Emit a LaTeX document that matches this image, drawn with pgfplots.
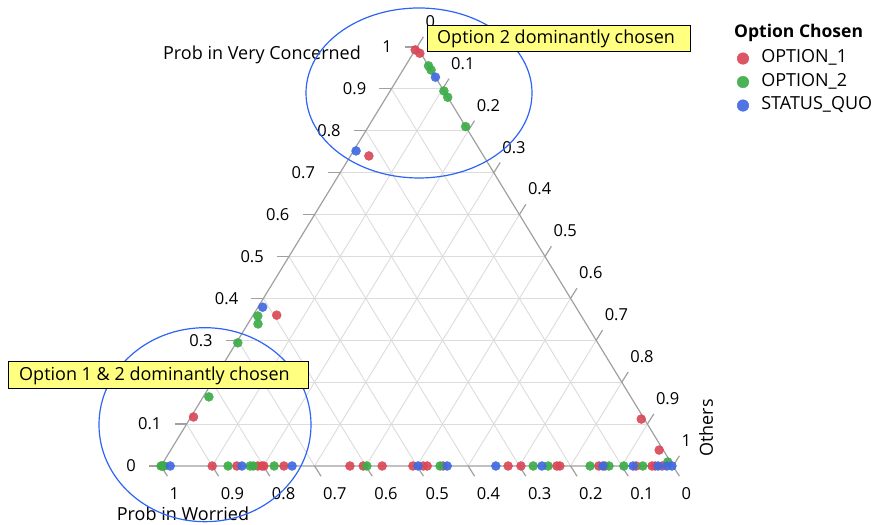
\documentclass[border=0pt]{standalone}
\usepackage{pgfplots}
\usepackage{pgfplotstable}
\pgfplotsset{compat=1.18}
\usepackage{fontspec}
\setmainfont{Open Sans}
\definecolor{cOne}{RGB}{217,72,87}
\definecolor{cTwo}{RGB}{60,173,72}
\definecolor{cSQ}{RGB}{65,105,225}
\definecolor{edgec}{RGB}{160,160,160}
\definecolor{gridc}{RGB}{220,220,220}
\definecolor{ann}{RGB}{255,255,128}
\definecolor{ellc}{RGB}{45,100,245}

% columns: a = Prob in Very Concerned, b = Prob in Worried, c = Others
\pgfplotstableread{
a b c
0 0.997 0.003
0 0.900 0.100
0 0.852 0.148
0 0.811 0.189
0 0.803 0.197
0 0.799 0.201
0 0.760 0.240
0 0.631 0.369
0 0.605 0.395
0 0.568 0.432
0 0.508 0.492
0 0.488 0.512
0 0.480 0.520
0 0.449 0.551
0 0.322 0.678
0 0.297 0.703
0 0.227 0.773
0 0.221 0.779
0 0.145 0.855
0 0.133 0.867
0 0.072 0.928
0 0.041 0.959
0 0.035 0.965
0 0.021 0.979
0.993 0.007 0.000
0.985 0.002 0.013
0.740 0.224 0.036
0.360 0.594 0.046
0.117 0.878 0.005
0.112 0.006 0.882
0.038 0.008 0.954
}\optone

\pgfplotstableread{
a b c
0 1.000 0.000
0 0.994 0.006
0 0.869 0.131
0 0.826 0.174
0 0.820 0.180
0 0.779 0.221
0 0.598 0.402
0 0.455 0.545
0 0.273 0.727
0 0.244 0.756
0 0.162 0.838
0 0.125 0.875
0 0.096 0.904
0 0.059 0.941
0.955 0 0.045
0.945 0 0.055
0.895 0 0.105
0.880 0 0.120
0.810 0 0.190
0.358 0.632 0.010
0.339 0.641 0.020
0.294 0.703 0.003
0.165 0.824 0.011
0.0095 0.0055 0.985
}\opttwo

\pgfplotstableread{
a b c
0 0.982 0.018
0 0.842 0.158
0 0.744 0.256
0 0.498 0.502
0 0.441 0.559
0 0.346 0.654
0 0.256 0.744
0 0.137 0.863
0 0.078 0.922
0 0.029 0.971
0 0.012 0.988
0 0.002 0.998
0.928 0 0.072
0.752 0.243 0.005
0.379 0.612 0.009
}\statusquo

\begin{document}
\fontsize{18bp}{21bp}\selectfont
\begin{tikzpicture}[x=1bp,y=1bp]
\useasboundingbox (-161,-59) rectangle (715,466);
% grid
\foreach \k in {1,...,9}{
  \draw[gridc, line width=0.9bp] ({\k/20*512},{\k/10*419}) -- ({(1-\k/20)*512},{\k/10*419});
  \draw[gridc, line width=0.9bp] ({\k/10*512},0) -- ({(\k/10+(1-\k/10)/2)*512},{(1-\k/10)*419});
  \draw[gridc, line width=0.9bp] ({(1-\k/10)*512},0) -- ({(1-\k/10)/2*512},{(1-\k/10)*419});
}
% edges
\draw[edgec, line width=1.2bp] (0,0) -- (256,419) -- (512,0) -- cycle;
% ticks and tick labels
\begin{scope}[every node/.style={inner sep=0pt, font=\fontsize{16.5bp}{19bp}\selectfont}]
\foreach \v/\t in {0/0,0.1/0.1,0.2/0.2,0.3/0.3,0.4/0.4,0.5/0.5,0.6/0.6,0.7/0.7,0.8/0.8,0.9/0.9,1/1}{
  % left axis: Prob in Very Concerned
  \draw[edgec, line width=1.2bp] ({\v/2*512},{\v*419}) -- ++(-12,0);
  % bottom axis: Prob in Worried
  \draw[edgec, line width=1.2bp] ({(1-\v)*512},0) -- ++(6.4,-10.2);
  \node[anchor=north west] at ({(1-\v)*512+8.4},-21.2) {\t};
  % right axis: Others
  \draw[edgec, line width=1.2bp] ({(\v+(1-\v)/2)*512},{(1-\v)*419}) -- ++(6.4,10.2);
  \node[anchor=south west] at ({(\v+(1-\v)/2)*512+8.4},{(1-\v)*419+19.2}) {\t};
}
\foreach \v/\t in {0/0,0.1/0.1,0.3/0.3,0.4/0.4,0.5/0.5,0.6/0.6,0.7/0.7,0.8/0.8,0.9/0.9,1/1}{
  \node[anchor=east] at ({\v/2*512-25},{\v*419}) {\t};
}
\end{scope}
\node at (101,411) {Prob in Very Concerned};
\node at (22,-48) {Prob in Worried};
\node[rotate=90] at (545,38) {Others};

\begin{axis}[at={(0,0)}, anchor=south west, scale only axis,
  width=512bp, height=419bp, xmin=0, xmax=1, ymin=0, ymax=1,
  enlargelimits=false, axis lines=none, clip=false,
  legend image code/.code={\draw[#1, mark size=5.8bp] plot coordinates {(0bp,0bp)};},
  legend style={draw=none, fill=none, at={(axis description cs:1.125,0.995)}, anchor=north west,
    font=\fontsize{18bp}{21bp}\selectfont, row sep=5bp, inner sep=0pt,
    nodes={inner sep=1.5bp, text height=12bp, text depth=3.5bp}},
  legend cell align=left,
  every axis plot/.append style={only marks, mark=*, mark size=4.5bp, opacity=0.92},
]
\addplot[mark options={draw=cOne, fill=cOne}] table[x expr=\thisrow{c}+0.5*\thisrow{a}, y=a] {\optone};
\addlegendentry{\hspace{11bp}OPTION\_1}
\addplot[mark options={draw=cTwo, fill=cTwo}] table[x expr=\thisrow{c}+0.5*\thisrow{a}, y=a] {\opttwo};
\addlegendentry{\hspace{11bp}OPTION\_2}
\addplot[mark options={draw=cSQ, fill=cSQ}] table[x expr=\thisrow{c}+0.5*\thisrow{a}, y=a] {\statusquo};
\addlegendentry{\hspace{11bp}STATUS\_QUO}
\end{axis}

\node[anchor=west, inner sep=0pt, font=\fontsize{17.5bp}{20bp}\selectfont\bfseries] at (573,433) {Option Chosen};
% annotations
\draw[ellc, line width=1.2bp] (258,373) ellipse [x radius=113, y radius=85];
\draw[ellc, line width=1.2bp] (44,41.3) ellipse [x radius=106, y radius=97];
\draw[black, fill=ann, line width=1bp] (266,414) rectangle (529,440);
\node[anchor=west, inner sep=0pt] at (276,427) {Option 2 dominantly chosen};
\draw[black, fill=ann, line width=1bp] (-152,77) rectangle (147,104);
\node[anchor=west, inner sep=0pt] at (-142,90.5) {Option 1 \& 2 dominantly chosen};
\end{tikzpicture}
\end{document}
